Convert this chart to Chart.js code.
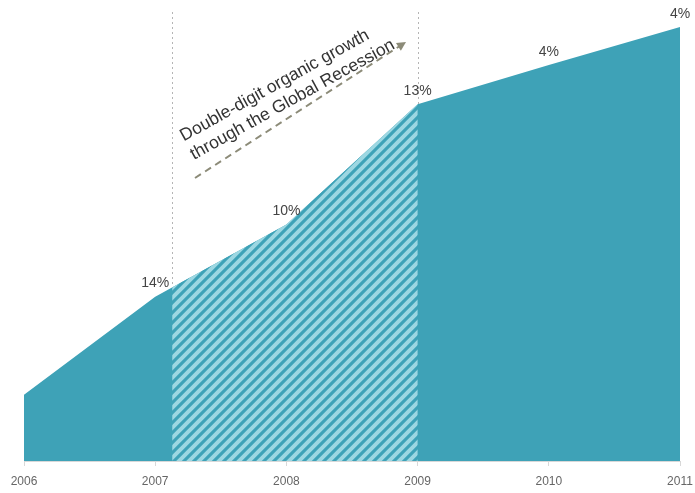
<!DOCTYPE html>
<html>
<head>
<meta charset="utf-8">
<script src="https://cdn.jsdelivr.net/npm/chart.js@4.4.0/dist/chart.umd.min.js"></script>
<style>
  html, body { margin: 0; padding: 0; background: #fff; }
  #wrap { position: relative; width: 695px; height: 493px; }
</style>
</head>
<body>
<div id="wrap"><canvas id="chart"></canvas></div>
<script>
// data (revenue index, arbitrary units)
const years = [2006, 2007, 2008, 2009, 2010, 2011]
const revenueIndex = [66, 164, 236, 356, 395, 433]
const growthLabels = ['', '14%', '10%', '13%', '4%', '4%']
const recessionSpan = [2007.13, 2009]
const noteLines = ['Double-digit organic growth', 'through the Global Recession']

const TEAL = '#3ea2b7'
const STRIPE = '#9cd7e2'
const FONT = '"Liberation Sans", Arial, sans-serif'

function hatchPattern (ctx) {
  const s = 10
  const c = document.createElement('canvas')
  c.width = s
  c.height = s
  const g = c.getContext('2d')
  g.fillStyle = TEAL
  g.fillRect(0, 0, s, s)
  g.strokeStyle = STRIPE
  g.lineWidth = 4
  g.beginPath()
  g.moveTo(-s / 2, s / 2); g.lineTo(s / 2, -s / 2)
  g.moveTo(0, s); g.lineTo(s, 0)
  g.moveTo(s / 2, s * 1.5); g.lineTo(s * 1.5, s / 2)
  g.stroke()
  return ctx.createPattern(c, 'repeat')
}

// dotted guide lines at the start and end of the recession
const guides = {
  id: 'guides',
  beforeDatasetsDraw (chart) {
    const { ctx, chartArea, scales: { x } } = chart
    ctx.save()
    ctx.strokeStyle = '#b5b5b5'
    ctx.lineWidth = 1
    ctx.setLineDash([2, 3])
    recessionSpan.forEach(v => {
      const px = Math.round(x.getPixelForValue(v)) + 0.5
      ctx.beginPath()
      ctx.moveTo(px, chartArea.top + 2)
      ctx.lineTo(px, chartArea.bottom)
      ctx.stroke()
    })
    ctx.restore()
  }
}

// re-fill the recession part of the area with stripes
const hatch = {
  id: 'hatch',
  afterDatasetsDraw (chart) {
    const { ctx, chartArea, scales: { x, y } } = chart
    const pts = chart.getDatasetMeta(0).data
    const x0 = x.getPixelForValue(recessionSpan[0])
    const x1 = x.getPixelForValue(recessionSpan[1])
    const base = y.getPixelForValue(0)
    ctx.save()
    ctx.beginPath()
    ctx.rect(x0, chartArea.top - 5, x1 - x0, base - chartArea.top + 5)
    ctx.clip()
    ctx.beginPath()
    ctx.moveTo(pts[0].x, base)
    pts.forEach(p => ctx.lineTo(p.x, p.y))
    ctx.lineTo(pts[pts.length - 1].x, base)
    ctx.closePath()
    ctx.fillStyle = hatchPattern(ctx)
    ctx.fill()
    ctx.restore()

    // growth labels over the points
    ctx.save()
    ctx.font = '14px ' + FONT
    ctx.fillStyle = '#444'
    ctx.textAlign = 'center'
    ctx.textBaseline = 'bottom'
    pts.forEach((p, i) => {
      if (growthLabels[i]) ctx.fillText(growthLabels[i], p.x, p.y - 6)
    })
    ctx.restore()
  }
}

// rotated note with dashed arrow
const note = {
  id: 'note',
  afterDraw (chart) {
    const { ctx } = chart
    ctx.save()
    ctx.translate(183, 142)
    ctx.rotate(-29 * Math.PI / 180)
    ctx.font = '17.5px ' + FONT
    ctx.fillStyle = '#333'
    ctx.textBaseline = 'alphabetic'
    noteLines.forEach((t, i) => ctx.fillText(t, 1, i * 21))
    ctx.restore()

    const ax0 = 195, ay0 = 178, ax1 = 406, ay1 = 42
    const ang = Math.atan2(ay1 - ay0, ax1 - ax0)
    ctx.save()
    ctx.strokeStyle = '#8c8b78'
    ctx.fillStyle = '#8c8b78'
    ctx.lineWidth = 2
    ctx.setLineDash([7, 5])
    ctx.beginPath()
    ctx.moveTo(ax0, ay0)
    ctx.lineTo(ax1 - 6 * Math.cos(ang), ay1 - 6 * Math.sin(ang))
    ctx.stroke()
    ctx.setLineDash([])
    ctx.translate(ax1, ay1)
    ctx.rotate(ang)
    ctx.beginPath()
    ctx.moveTo(0, 0)
    ctx.lineTo(-9, -4.5)
    ctx.lineTo(-9, 4.5)
    ctx.closePath()
    ctx.fill()
    ctx.restore()
  }
}

new Chart(document.getElementById('chart'), {
  type: 'line',
  data: {
    datasets: [{
      data: years.map((yr, i) => ({ x: yr, y: revenueIndex[i] })),
      backgroundColor: TEAL,
      borderWidth: 0,
      pointRadius: 0,
      tension: 0,
      fill: 'origin'
    }]
  },
  options: {
    responsive: true,
    maintainAspectRatio: false,
    animation: false,
    layout: { padding: { left: 24, right: 15, top: 10, bottom: 0 } },
    plugins: { legend: { display: false }, tooltip: { enabled: false } },
    scales: {
      x: {
        type: 'linear',
        min: years[0],
        max: years[years.length - 1],
        afterBuildTicks: scale => { scale.ticks = years.map(v => ({ value: v })) },
        afterFit: scale => {
          scale.height = 32
          scale.paddingLeft = 0
          scale.paddingRight = 0
        },
        ticks: {
          callback: v => String(v),
          color: '#666',
          font: { size: 12, family: FONT, lineHeight: 1 },
          padding: 10,
          maxRotation: 0
        },
        grid: { drawOnChartArea: false, drawTicks: true, tickLength: 5, color: '#d8d8d8' },
        border: { display: true, color: '#d8d8d8' }
      },
      y: { display: false, min: 0, max: 450 }
    }
  },
  plugins: [guides, hatch, note]
})
</script>
</body>
</html>
